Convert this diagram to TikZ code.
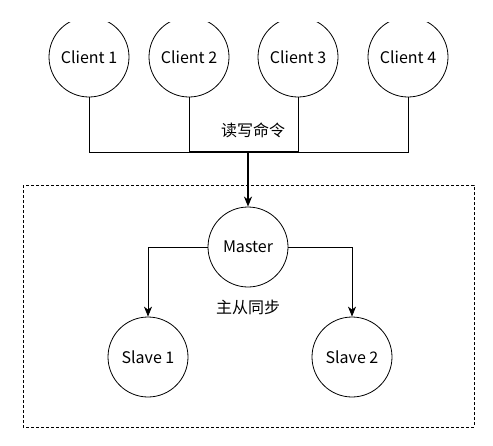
\documentclass[tikz,border=0pt]{standalone}
\usepackage{fontspec}
\setmainfont{Noto Sans CJK SC}
\usetikzlibrary{arrows.meta}

\tikzset{
    node/.style={draw, circle, minimum size=80pt, inner sep=0pt, line width=0.8pt, font=\fontsize{16}{19}\selectfont},
    link/.style={line width=0.8pt},
    tip/.style={-{Stealth[length=10pt,width=8pt,inset=3pt]}},
    label/.style={font=\fontsize{16}{19}\selectfont}
}

\begin{document}
\begin{tikzpicture}[x=1pt,y=-1pt]

    \useasboundingbox (0,0) rectangle (493,445);

    % Clients (cut at the top)
    \begin{scope}
        \clip (0,22) rectangle (493,445);
        \node[node] (c1) at (89,57) {Client 1};
        \node[node] (c2) at (189,57) {Client 2};
        \node[node] (c3) at (298,57) {Client 3};
        \node[node] (c4) at (408,57) {Client 4};
    \end{scope}

    % Bus
    \coordinate (bus) at (248,152);
    \draw[link] (c1.south) |- (c4.south |- bus) -- (c4.south);
    \draw[link] (c2.south) -- (c2.south |- bus);
    \draw[link] (c3.south) -- (c3.south |- bus);
    \draw[line width=1.6pt] (c2.south |- bus) -- (c3.south |- bus);
    \node[label] (rw) at (253,130) {读写命令};

    % Cluster
    \draw[link, dash pattern=on 3pt off 2pt] (23,185) rectangle (474,427);

    \node[node] (master) at (248,247) {Master};
    \node[node] (s1) at (148,357) {Slave 1};
    \node[node] (s2) at (352,357) {Slave 2};
    \node[label] (sync) at (248,307) {主从同步};

    % Arrows
    \draw[line width=1.6pt, tip] (bus) -- (master.north);
    \draw[link, tip] (master.west) -| (s1.north);
    \draw[link, tip] (master.east) -| (s2.north);

\end{tikzpicture}
\end{document}
